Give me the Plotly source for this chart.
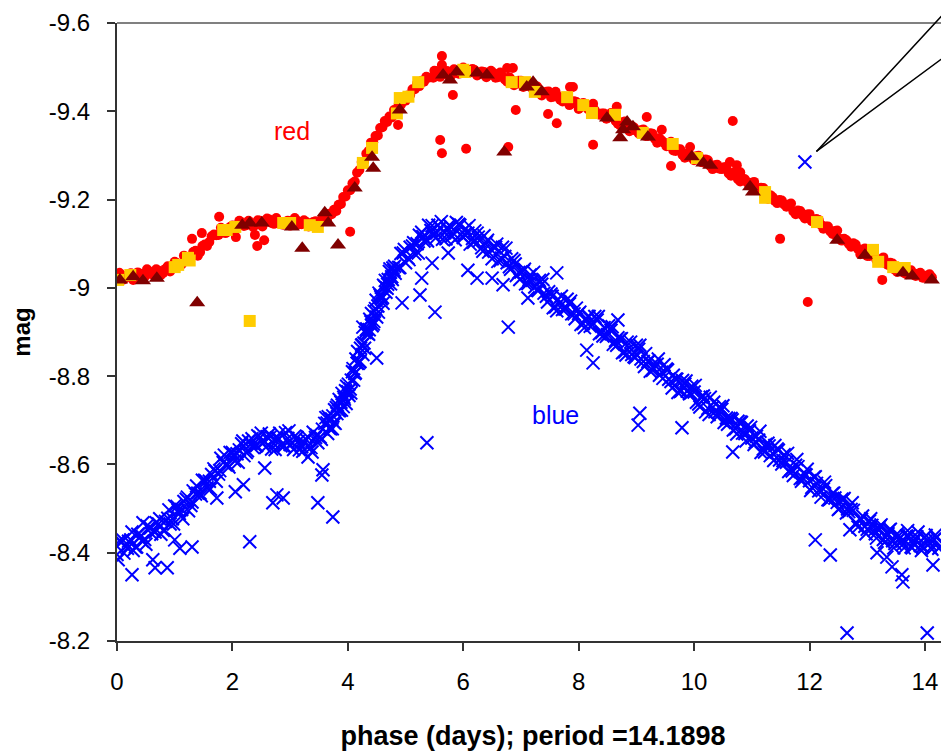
import plotly.graph_objects as go

# ---------------- data ----------------
# blue band (X markers), first pass
blue_x_a = [0.00,0.08,0.16,0.24,0.32,0.40,0.48,0.56,0.64,0.72,
            0.80,0.88,0.96,1.04,1.12,1.20,1.28,1.36,1.44,1.52,
            1.60,1.68,1.76,1.84,1.92,2.00,2.08,2.16,2.24,2.32,
            2.40,2.48,2.56,2.64,2.72,2.80,2.88,2.96,3.04,3.12,
            3.20,3.28,3.36,3.44,3.52,3.60]
blue_y_a = [-8.396,-8.424,-8.414,-8.429,-8.413,-8.435,-8.430,-8.458,-8.449,-8.465,
            -8.451,-8.478,-8.477,-8.505,-8.498,-8.521,-8.507,-8.533,-8.535,-8.564,
            -8.562,-8.590,-8.578,-8.604,-8.599,-8.627,-8.624,-8.647,-8.627,-8.647,
            -8.642,-8.661,-8.652,-8.669,-8.647,-8.659,-8.642,-8.659,-8.648,-8.661,
            -8.640,-8.656,-8.638,-8.661,-8.662,-8.693]
blue_x_b = [3.64,3.68,3.72,3.76,3.80,3.84,3.88,3.92,3.96,4.00,
            4.04,4.08,4.12,4.16,4.20,4.24,4.28,4.32,4.36,4.40,
            4.44,4.48,4.52,4.56,4.60,4.64,4.68,4.72,4.76,4.80]
blue_y_b = [-8.694,-8.682,-8.703,-8.695,-8.729,-8.722,-8.741,-8.731,-8.767,-8.765,
            -8.771,-8.810,-8.806,-8.829,-8.832,-8.870,-8.875,-8.905,-8.895,-8.923,
            -8.918,-8.953,-8.959,-8.984,-8.978,-9.003,-8.999,-9.037,-9.025,-9.040]
blue_x_c = [4.88,4.96,5.04,5.12,5.20,5.28,5.36,5.44,5.52,5.60,
            5.68,5.76,5.84,5.92,6.00,6.08,6.16,6.24,6.32,6.40,
            6.48,6.56,6.64,6.72,6.80,6.88,6.96,7.04,7.12,7.20,
            7.28,7.36,7.44,7.52,7.60,7.68,7.76,7.84,7.92,8.00,
            8.08,8.16,8.24,8.32,8.40]
blue_y_c = [-9.046,-9.079,-9.068,-9.095,-9.100,-9.126,-9.109,-9.130,-9.113,-9.136,
            -9.125,-9.142,-9.122,-9.144,-9.114,-9.124,-9.112,-9.124,-9.091,-9.103,
            -9.087,-9.092,-9.062,-9.071,-9.048,-9.062,-9.035,-9.038,-9.010,-9.017,
            -8.995,-9.008,-8.981,-8.986,-8.957,-8.967,-8.952,-8.964,-8.941,-8.942,
            -8.919,-8.935,-8.916,-8.927,-8.899]
blue_x_d = [8.48,8.56,8.64,8.72,8.80,8.88,8.96,9.04,9.12,9.20,
            9.28,9.36,9.44,9.52,9.60,9.68,9.76,9.84,9.92,10.00,
            10.08,10.16,10.24,10.32,10.40,10.48,10.56,10.64,10.72,10.80,
            10.88,10.96,11.04,11.12,11.20,11.28,11.36,11.44,11.52,11.60,
            11.68,11.76,11.84,11.92,12.00,12.08,12.16,12.24,12.32,12.40,
            12.48,12.56,12.64,12.72,12.80,12.88,12.96,13.04,13.12,13.20,
            13.28,13.36,13.44,13.52,13.60,13.68,13.76,13.84,13.92,14.00,
            14.08,14.16,14.24]
blue_y_d = [-8.890,-8.904,-8.881,-8.884,-8.855,-8.864,-8.844,-8.861,-8.833,-8.833,
            -8.813,-8.827,-8.809,-8.816,-8.788,-8.793,-8.765,-8.782,-8.760,-8.764,
            -8.737,-8.755,-8.727,-8.729,-8.708,-8.725,-8.705,-8.704,-8.681,-8.696,
            -8.670,-8.676,-8.645,-8.655,-8.635,-8.648,-8.625,-8.635,-8.601,-8.605,
            -8.589,-8.598,-8.568,-8.578,-8.563,-8.571,-8.540,-8.544,-8.520,-8.534,
            -8.514,-8.521,-8.490,-8.498,-8.467,-8.475,-8.460,-8.472,-8.451,-8.455,
            -8.430,-8.443,-8.427,-8.443,-8.426,-8.438,-8.413,-8.430,-8.416,-8.435,
            -8.421,-8.430,-8.410]
# blue band, second pass
blue_x_a2 = [0.04,0.12,0.20,0.28,0.36,0.44,0.52,0.60,0.68,0.76,
             0.84,0.92,1.00,1.08,1.16,1.24,1.32,1.40,1.48,1.56,
             1.64,1.72,1.80,1.88,1.96,2.04,2.12,2.20,2.28,2.36,
             2.44,2.52,2.60,2.68,2.76,2.84,2.92,3.00,3.08,3.16,
             3.24,3.32,3.40,3.48,3.56]
blue_y_a2 = [-8.427,-8.399,-8.426,-8.405,-8.442,-8.426,-8.461,-8.443,-8.468,-8.442,
             -8.471,-8.465,-8.506,-8.489,-8.516,-8.495,-8.540,-8.535,-8.564,-8.547,
             -8.577,-8.562,-8.614,-8.599,-8.627,-8.608,-8.633,-8.620,-8.653,-8.638,
             -8.665,-8.649,-8.663,-8.635,-8.660,-8.642,-8.672,-8.645,-8.664,-8.633,
             -8.650,-8.641,-8.673,-8.649,-8.680]
blue_x_b2 = [3.66,3.70,3.74,3.78,3.82,3.86,3.90,3.94,3.98,4.02,
             4.06,4.10,4.14,4.18,4.22,4.26,4.30,4.34,4.38,4.42,
             4.46,4.50,4.54,4.58,4.62,4.66,4.70,4.74,4.78,4.82]
blue_y_b2 = [-8.708,-8.681,-8.710,-8.693,-8.734,-8.722,-8.761,-8.748,-8.777,-8.756,
             -8.791,-8.791,-8.839,-8.829,-8.863,-8.849,-8.899,-8.897,-8.929,-8.914,
             -8.947,-8.934,-8.988,-8.975,-9.006,-8.990,-9.019,-9.009,-9.045,-9.033]
blue_x_c2 = [4.92,5.00,5.08,5.16,5.24,5.32,5.40,5.48,5.56,5.64,
             5.72,5.80,5.88,5.96,6.04,6.12,6.20,6.28,6.36,6.44,
             6.52,6.60,6.68,6.76,6.84,6.92,7.00,7.08,7.16,7.24,
             7.32,7.40,7.48,7.56,7.64,7.72,7.80,7.88,7.96,8.04,
             8.12,8.20,8.28,8.36,8.44]
blue_y_c2 = [-9.078,-9.057,-9.092,-9.077,-9.119,-9.106,-9.142,-9.121,-9.142,-9.110,
             -9.133,-9.118,-9.148,-9.120,-9.134,-9.099,-9.129,-9.107,-9.118,-9.081,
             -9.093,-9.060,-9.092,-9.057,-9.066,-9.028,-9.036,-9.009,-9.029,-9.002,
             -9.017,-8.988,-8.991,-8.955,-8.974,-8.951,-8.974,-8.941,-8.954,-8.917,
             -8.929,-8.913,-8.935,-8.896,-8.910]
blue_x_d2 = [8.52,8.60,8.68,8.76,8.84,8.92,9.00,9.08,9.16,9.24,
             9.32,9.40,9.48,9.56,9.64,9.72,9.80,9.88,9.96,10.04,
             10.12,10.20,10.28,10.36,10.44,10.52,10.60,10.68,10.76,10.84,
             10.92,11.00,11.08,11.16,11.24,11.32,11.40,11.48,11.56,11.64,
             11.72,11.80,11.88,11.96,12.04,12.12,12.20,12.28,12.36,12.44,
             12.52,12.60,12.68,12.76,12.84,12.92,13.00,13.08,13.16,13.24,
             13.32,13.40,13.48,13.56,13.64,13.72,13.80,13.88,13.96,14.04,
             14.12,14.20]
blue_y_d2 = [-8.914,-8.872,-8.887,-8.853,-8.877,-8.849,-8.870,-8.839,-8.851,-8.811,
             -8.825,-8.802,-8.826,-8.793,-8.802,-8.763,-8.790,-8.766,-8.777,-8.741,
             -8.753,-8.719,-8.752,-8.719,-8.731,-8.695,-8.704,-8.678,-8.698,-8.671,
             -8.687,-8.660,-8.664,-8.627,-8.645,-8.620,-8.643,-8.610,-8.622,-8.584,
             -8.575,-8.595,-8.570,-8.589,-8.548,-8.557,-8.526,-8.552,-8.522,-8.524,
             -8.500,-8.523,-8.493,-8.496,-8.458,-8.483,-8.453,-8.462,-8.433,-8.463,
             -8.435,-8.453,-8.421,-8.433,-8.411,-8.438,-8.420,-8.447,-8.414,-8.429,
             -8.408,-8.434]
# blue band, third pass
blue_x_a3 = [0.02,0.10,0.18,0.26,0.34,0.42,0.50,0.58,0.66,0.74,
             0.82,0.90,0.98,1.06,1.14,1.22,1.30,1.38,1.46,1.54,
             1.62,1.70,1.78,1.86,1.94,2.02,2.10,2.18,2.26,2.34,
             2.42,2.50,2.58,2.66,2.74,2.82,2.90,2.98,3.06,3.14,
             3.22,3.30,3.38,3.46,3.54,3.62]
blue_y_a3 = [-8.384,-8.429,-8.410,-8.447,-8.413,-8.439,-8.419,-8.456,-8.447,-8.477,
             -8.452,-8.497,-8.465,-8.496,-8.477,-8.526,-8.515,-8.551,-8.529,-8.562,
             -8.544,-8.585,-8.586,-8.621,-8.594,-8.622,-8.605,-8.653,-8.631,-8.658,
             -8.643,-8.671,-8.639,-8.663,-8.634,-8.671,-8.642,-8.676,-8.634,-8.652,
             -8.630,-8.663,-8.628,-8.666,-8.657,-8.706]
blue_x_b3 = [3.65,3.69,3.73,3.77,3.81,3.85,3.89,3.93,3.97,4.01,
             4.05,4.09,4.13,4.17,4.21,4.25,4.29,4.33,4.37,4.41,
             4.45,4.49,4.53,4.57,4.61,4.65,4.69,4.73,4.77,4.81]
blue_y_b3 = [-8.670,-8.703,-8.681,-8.724,-8.715,-8.747,-8.723,-8.752,-8.738,-8.782,
             -8.762,-8.817,-8.808,-8.856,-8.833,-8.871,-8.863,-8.907,-8.905,-8.942,
             -8.924,-8.972,-8.945,-8.980,-8.965,-9.017,-9.008,-9.043,-9.019,-9.049]
blue_x_c3 = [4.90,4.98,5.06,5.14,5.22,5.30,5.38,5.46,5.54,5.62,
             5.70,5.78,5.86,5.94,6.02,6.10,6.18,6.26,6.34,6.42,
             6.50,6.58,6.66,6.74,6.82,6.90,6.98,7.06,7.14,7.22,
             7.30,7.38,7.46,7.54,7.62,7.70,7.78,7.86,7.94,8.02,
             8.10,8.18,8.26,8.34,8.42]
blue_y_c3 = [-9.046,-9.087,-9.064,-9.102,-9.079,-9.116,-9.106,-9.141,-9.124,-9.150,
             -9.111,-9.139,-9.109,-9.142,-9.121,-9.141,-9.103,-9.115,-9.083,-9.108,
             -9.066,-9.099,-9.067,-9.090,-9.042,-9.054,-9.019,-9.042,-9.019,-9.035,
             -8.994,-9.019,-8.968,-8.981,-8.948,-8.981,-8.953,-8.970,-8.930,-8.945,
             -8.910,-8.935,-8.919,-8.935,-8.891]
blue_x_d3 = [8.50,8.58,8.66,8.74,8.82,8.90,8.98,9.06,9.14,9.22,
             9.30,9.38,9.46,9.54,9.62,9.70,9.78,9.86,9.94,10.02,
             10.10,10.18,10.26,10.34,10.42,10.50,10.58,10.66,10.74,10.82,
             10.90,10.98,11.06,11.14,11.22,11.30,11.38,11.46,11.54,11.62,
             11.70,11.78,11.86,11.94,12.02,12.10,12.18,12.26,12.34,12.42,
             12.50,12.58,12.66,12.74,12.82,12.90,12.98,13.06,13.14,13.22,
             13.30,13.38,13.46,13.54,13.62,13.70,13.78,13.86,13.94,14.02,
             14.10,14.18,14.26]
blue_y_d3 = [-8.894,-8.912,-8.870,-8.885,-8.848,-8.877,-8.842,-8.870,-8.822,-8.834,
             -8.818,-8.839,-8.795,-8.814,-8.773,-8.793,-8.767,-8.789,-8.762,-8.779,
             -8.730,-8.749,-8.713,-8.741,-8.717,-8.733,-8.691,-8.701,-8.669,-8.695,
             -8.653,-8.684,-8.651,-8.675,-8.628,-8.642,-8.609,-8.632,-8.609,-8.625,
             -8.585,-8.611,-8.562,-8.576,-8.541,-8.572,-8.543,-8.560,-8.520,-8.535,
             -8.498,-8.520,-8.499,-8.513,-8.466,-8.476,-8.443,-8.477,-8.443,-8.460,
             -8.423,-8.451,-8.411,-8.438,-8.419,-8.450,-8.411,-8.436,-8.405,-8.439,
             -8.411,-8.440,-8.413]
blue_out_x = [0.26,0.66,0.87,1.09,1.30,1.00,0.45,2.30,2.70,2.77,
              2.88,3.48,3.74,3.55,3.57,2.56,2.19,2.05,1.73,3.31,
              0.62,5.37,4.26,4.50,4.94,5.25,5.51,5.28,5.46,5.74,
              6.08,6.24,6.50,6.69,6.78,7.12,7.62,8.14,8.25,9.06,
              9.03,9.79,12.10,12.36,12.65,14.04,13.17,13.34,13.43,13.62,
              13.60,14.14,12.70,10.67,8.68,11.92]
blue_out_y = [-8.350,-8.366,-8.366,-8.410,-8.413,-8.429,-8.468,-8.425,-8.513,-8.531,
              -8.524,-8.513,-8.481,-8.576,-8.588,-8.592,-8.554,-8.538,-8.524,-8.617,
              -8.384,-8.649,-8.911,-8.841,-8.966,-8.984,-8.945,-9.022,-9.056,-9.079,
              -9.040,-9.022,-9.022,-9.007,-8.911,-8.977,-9.034,-8.859,-8.830,-8.716,
              -8.689,-8.683,-8.429,-8.395,-8.218,-8.218,-8.400,-8.390,-8.368,-8.334,
              -8.350,-8.372,-8.452,-8.628,-8.927,-9.285]

# red band (filled circles), first pass
red_x_a = [0.00,0.08,0.16,0.24,0.32,0.40,0.48,0.56,0.64,0.72,
           0.80,0.88,0.96,1.04,1.12,1.20,1.28,1.36,1.44,1.52,
           1.60,1.68,1.76,1.84,1.92,2.00,2.08,2.16,2.24,2.32,
           2.40,2.48,2.56,2.64,2.72,2.80,2.88,2.96,3.04,3.12,
           3.20,3.28,3.36,3.44,3.52,3.60]
red_y_a = [-9.019,-9.029,-9.024,-9.033,-9.025,-9.032,-9.025,-9.037,-9.033,-9.039,
           -9.034,-9.049,-9.046,-9.056,-9.053,-9.067,-9.069,-9.084,-9.081,-9.098,
           -9.104,-9.121,-9.120,-9.133,-9.127,-9.141,-9.138,-9.148,-9.142,-9.147,
           -9.143,-9.152,-9.148,-9.155,-9.145,-9.151,-9.143,-9.152,-9.146,-9.152,
           -9.144,-9.149,-9.142,-9.151,-9.147,-9.160]
red_x_b = [3.64,3.68,3.72,3.76,3.80,3.84,3.88,3.92,3.96,4.00,
           4.04,4.08,4.12,4.16,4.20,4.24,4.28,4.32,4.36,4.40,
           4.44,4.48,4.52,4.56,4.60,4.64,4.68,4.72,4.76,4.80,
           4.84,4.88,4.92,4.96,5.00,5.04,5.08,5.12,5.16,5.20,
           5.24,5.28,5.32,5.36,5.40]
red_y_b = [-9.154,-9.168,-9.167,-9.177,-9.174,-9.188,-9.190,-9.206,-9.207,-9.221,
           -9.221,-9.237,-9.241,-9.261,-9.267,-9.285,-9.286,-9.304,-9.310,-9.329,
           -9.330,-9.344,-9.345,-9.362,-9.364,-9.378,-9.376,-9.388,-9.386,-9.403,
           -9.402,-9.415,-9.415,-9.429,-9.424,-9.436,-9.437,-9.450,-9.450,-9.463,
           -9.457,-9.469,-9.467,-9.478,-9.476]
red_x_c = [5.48,5.56,5.64,5.72,5.80,5.88,5.96,6.04,6.12,6.20,
           6.28,6.36,6.44,6.52,6.60,6.68,6.76,6.84,6.92,7.00,
           7.08,7.16,7.24,7.32,7.40,7.48,7.56,7.64,7.72,7.80,
           7.88,7.96,8.04,8.12,8.20,8.28,8.36,8.44,8.52,8.60,
           8.68,8.76,8.84,8.92,9.00,9.08,9.16,9.24,9.32,9.40,
           9.48,9.56,9.64,9.72,9.80,9.88,9.96,10.04,10.12,10.20,
           10.28,10.36,10.44,10.52,10.60,10.68,10.76,10.84,10.92,11.00,
           11.08,11.16,11.24,11.32,11.40,11.48,11.56,11.64,11.72,11.80,
           11.88,11.96,12.04,12.12,12.20,12.28,12.36,12.44,12.52,12.60,
           12.68,12.76,12.84,12.92,13.00,13.08,13.16,13.24,13.32,13.40,
           13.48,13.56,13.64,13.72,13.80,13.88,13.96,14.04,14.12]
red_y_c = [-9.476,-9.488,-9.484,-9.491,-9.483,-9.491,-9.486,-9.495,-9.488,-9.493,
           -9.484,-9.489,-9.482,-9.487,-9.477,-9.480,-9.467,-9.471,-9.463,-9.469,
           -9.457,-9.457,-9.444,-9.449,-9.441,-9.445,-9.433,-9.434,-9.422,-9.430,
           -9.418,-9.421,-9.411,-9.415,-9.400,-9.402,-9.392,-9.395,-9.386,-9.388,
           -9.372,-9.375,-9.365,-9.366,-9.356,-9.357,-9.344,-9.350,-9.338,-9.339,
           -9.329,-9.328,-9.311,-9.314,-9.301,-9.304,-9.295,-9.298,-9.285,-9.291,
           -9.276,-9.278,-9.270,-9.273,-9.259,-9.261,-9.246,-9.248,-9.239,-9.238,
           -9.225,-9.227,-9.210,-9.210,-9.197,-9.199,-9.189,-9.189,-9.173,-9.175,
           -9.164,-9.166,-9.151,-9.156,-9.143,-9.139,-9.128,-9.129,-9.111,-9.111,
           -9.100,-9.101,-9.088,-9.087,-9.072,-9.075,-9.063,-9.065,-9.055,-9.057,
           -9.041,-9.043,-9.034,-9.038,-9.030,-9.032,-9.023,-9.028,-9.024]
# red band, second pass
red_x_a2 = [0.04,0.12,0.20,0.28,0.36,0.44,0.52,0.60,0.68,0.76,
            0.84,0.92,1.00,1.08,1.16,1.24,1.32,1.40,1.48,1.56,
            1.64,1.72,1.80,1.88,1.96,2.04,2.12,2.20,2.28,2.36,
            2.44,2.52,2.60,2.68,2.76,2.84,2.92,3.00,3.08,3.16,
            3.24,3.32,3.40,3.48,3.56]
red_y_a2 = [-9.034,-9.019,-9.030,-9.018,-9.035,-9.027,-9.042,-9.031,-9.042,-9.029,
            -9.043,-9.037,-9.059,-9.051,-9.073,-9.066,-9.081,-9.073,-9.095,-9.095,
            -9.117,-9.119,-9.136,-9.124,-9.138,-9.133,-9.152,-9.140,-9.152,-9.138,
            -9.153,-9.139,-9.157,-9.147,-9.158,-9.144,-9.150,-9.141,-9.158,-9.144,
            -9.153,-9.139,-9.149,-9.139,-9.158]
red_x_c2 = [5.52,5.60,5.68,5.76,5.84,5.92,6.00,6.08,6.16,6.24,
            6.32,6.40,6.48,6.56,6.64,6.72,6.80,6.88,6.96,7.04,
            7.12,7.20,7.28,7.36,7.44,7.52,7.60,7.68,7.76,7.84,
            7.92,8.00,8.08,8.16,8.24,8.32,8.40,8.48,8.56,8.64,
            8.72,8.80,8.88,8.96,9.04,9.12,9.20,9.28,9.36,9.44,
            9.52,9.60,9.68,9.76,9.84,9.92,10.00,10.08,10.16,10.24,
            10.32,10.40,10.48,10.56,10.64,10.72,10.80,10.88,10.96,11.04,
            11.12,11.20,11.28,11.36,11.44,11.52,11.60,11.68,11.76,11.84,
            11.92,12.00,12.08,12.16,12.24,12.32,12.40,12.48,12.56,12.64,
            12.72,12.80,12.88,12.96,13.04,13.12,13.20,13.28,13.36,13.44,
            13.52,13.60,13.68,13.76,13.84,13.92,14.00,14.08]
red_y_c2 = [-9.491,-9.478,-9.490,-9.479,-9.495,-9.485,-9.499,-9.487,-9.496,-9.481,
            -9.490,-9.477,-9.492,-9.476,-9.488,-9.472,-9.477,-9.459,-9.469,-9.455,
            -9.464,-9.451,-9.456,-9.436,-9.444,-9.432,-9.444,-9.426,-9.433,-9.414,
            -9.423,-9.405,-9.419,-9.405,-9.412,-9.394,-9.395,-9.383,-9.396,-9.378,
            -9.368,-9.377,-9.355,-9.363,-9.350,-9.359,-9.344,-9.349,-9.329,-9.334,
            -9.321,-9.331,-9.310,-9.314,-9.295,-9.302,-9.289,-9.299,-9.284,-9.289,
            -9.269,-9.279,-9.269,-9.274,-9.254,-9.262,-9.241,-9.246,-9.232,-9.240,
            -9.222,-9.226,-9.202,-9.206,-9.192,-9.198,-9.184,-9.191,-9.167,-9.174,
            -9.157,-9.167,-9.151,-9.154,-9.134,-9.139,-9.122,-9.130,-9.107,-9.108,
            -9.093,-9.098,-9.076,-9.089,-9.072,-9.073,-9.059,-9.069,-9.052,-9.055,
            -9.036,-9.043,-9.031,-9.040,-9.027,-9.034,-9.023,-9.031]
red_out_x = [1.77,1.30,1.47,2.39,2.43,2.55,2.06,4.04,4.87,5.50,
             5.63,5.63,5.82,5.60,5.63,6.05,6.76,6.86,6.78,6.91,
             7.47,7.62,7.85,7.90,8.25,8.25,8.66,9.18,9.44,9.60,
             9.93,10.62,10.74,10.80,10.67,11.49,11.97,13.26]
red_out_y = [-9.161,-9.111,-9.124,-9.120,-9.095,-9.108,-9.115,-9.127,-9.369,-9.492,
             -9.525,-9.505,-9.437,-9.335,-9.305,-9.315,-9.498,-9.498,-9.319,-9.403,
             -9.394,-9.373,-9.455,-9.455,-9.324,-9.417,-9.410,-9.387,-9.358,-9.276,
             -9.319,-9.285,-9.278,-9.262,-9.378,-9.111,-8.968,-9.018]

# gold squares
sq_x = [0.02,0.23,1.00,1.06,1.23,1.26,1.84,1.90,2.05,2.30,
        2.88,3.00,3.34,3.48,4.26,4.42,4.85,4.90,5.05,5.22,
        6.00,6.03,6.84,7.07,7.24,7.80,8.08,8.23,8.63,9.11,
        9.63,10.05,11.23,11.23,12.13,13.10,13.19,13.45,13.65]
sq_y = [-9.018,-9.029,-9.047,-9.052,-9.068,-9.062,-9.131,-9.131,-9.138,-8.925,
        -9.147,-9.147,-9.142,-9.138,-9.283,-9.317,-9.395,-9.430,-9.433,-9.466,
        -9.494,-9.489,-9.466,-9.466,-9.444,-9.432,-9.414,-9.396,-9.392,-9.351,
        -9.326,-9.294,-9.217,-9.204,-9.149,-9.086,-9.059,-9.047,-9.045]

# dark red triangles
tri_x = [0.05,0.28,0.45,0.69,1.39,2.17,2.30,2.51,3.03,3.21,
         3.60,3.66,3.83,4.12,4.42,4.44,4.90,5.65,5.77,5.89,
         6.24,6.41,6.71,7.10,7.21,7.36,8.49,8.72,8.77,8.84,
         8.94,9.20,9.96,10.16,10.28,10.97,11.02,12.48,12.96,13.62,
         13.78,14.12]
tri_y = [-9.018,-9.025,-9.016,-9.022,-8.966,-9.142,-9.147,-9.147,-9.138,-9.090,
         -9.170,-9.147,-9.097,-9.226,-9.296,-9.271,-9.403,-9.482,-9.471,-9.489,
         -9.487,-9.482,-9.308,-9.455,-9.466,-9.444,-9.385,-9.340,-9.358,-9.376,
         -9.365,-9.342,-9.297,-9.283,-9.278,-9.229,-9.217,-9.108,-9.074,-9.034,
         -9.027,-9.018]

x_ticks = [0, 2, 4, 6, 8, 10, 12, 14]
y_ticks = [-9.6, -9.4, -9.2, -9.0, -8.8, -8.6, -8.4, -8.2]
y_tick_labels = ['-9.6', '-9.4', '-9.2', '-9', '-8.8', '-8.6', '-8.4', '-8.2']

series_labels = [("red", 3.03, -9.355, "#FF0000"), ("blue", 7.59, -8.712, "#0000FF")]
callout_point = (12.12, -9.309)

pairs = [(blue_x_a, blue_y_a), (blue_x_b, blue_y_b), (blue_x_c, blue_y_c), (blue_x_d, blue_y_d),
         (blue_x_a2, blue_y_a2), (blue_x_b2, blue_y_b2), (blue_x_c2, blue_y_c2), (blue_x_d2, blue_y_d2),
         (blue_x_a3, blue_y_a3), (blue_x_b3, blue_y_b3), (blue_x_c3, blue_y_c3), (blue_x_d3, blue_y_d3),
         (blue_out_x, blue_out_y), (red_x_a, red_y_a), (red_x_b, red_y_b), (red_x_c, red_y_c),
         (red_x_a2, red_y_a2), (red_x_c2, red_y_c2),
         (red_out_x, red_out_y), (sq_x, sq_y), (tri_x, tri_y)]
for a, b in pairs:
    assert len(a) == len(b), (len(a), len(b))

red_x = red_x_a + red_x_a2 + red_x_b + red_x_c + red_x_c2 + red_out_x
red_y = red_y_a + red_y_a2 + red_y_b + red_y_c + red_y_c2 + red_out_y
blue_x = (blue_x_a + blue_x_a2 + blue_x_a3 + blue_x_b + blue_x_b2 + blue_x_b3
          + blue_x_c + blue_x_c2 + blue_x_c3 + blue_x_d + blue_x_d2 + blue_x_d3 + blue_out_x)
blue_y = (blue_y_a + blue_y_a2 + blue_y_a3 + blue_y_b + blue_y_b2 + blue_y_b3
          + blue_y_c + blue_y_c2 + blue_y_c3 + blue_y_d + blue_y_d2 + blue_y_d3 + blue_out_y)

FONT = "Liberation Sans, Arial, sans-serif"

fig = go.Figure()
fig.add_trace(go.Scatter(x=blue_x, y=blue_y, mode="markers",
                         marker=dict(symbol="x-thin", size=13, color="#0000FF",
                                     line=dict(color="#0000FF", width=2)),
                         showlegend=False, hoverinfo="skip"))
fig.add_trace(go.Scatter(x=red_x, y=red_y, mode="markers",
                         marker=dict(symbol="circle", size=10, color="#FF0000", line=dict(width=0)),
                         showlegend=False, hoverinfo="skip"))
fig.add_trace(go.Scatter(x=sq_x, y=sq_y, mode="markers",
                         marker=dict(symbol="square", size=12, color="#FFCC00", line=dict(width=0)),
                         showlegend=False, hoverinfo="skip"))
fig.add_trace(go.Scatter(x=tri_x, y=tri_y, mode="markers",
                         marker=dict(symbol="triangle-up", size=14, color="#800000", line=dict(width=0)),
                         showlegend=False, hoverinfo="skip"))

annotations = []
for txt, ax_, ay_, col in series_labels:
    annotations.append(dict(x=ax_, y=ay_, xref="x", yref="y", text=txt, showarrow=False,
                            font=dict(family=FONT, size=25, color=col)))
for dx, dy in [(150, -163), (150, -98)]:
    annotations.append(dict(x=callout_point[0], y=callout_point[1], xref="x", yref="y", text="",
                            showarrow=True, arrowhead=0, arrowwidth=1.5, arrowcolor="black",
                            ax=dx, ay=dy, standoff=0, startstandoff=0))

fig.update_layout(
    width=941, height=743,
    margin=dict(l=109, r=0, t=15, b=110),
    paper_bgcolor="white", plot_bgcolor="white",
    showlegend=False,
    font=dict(family=FONT, color="black"),
    annotations=annotations,
    shapes=[dict(type="line", xref="paper", yref="paper", x0=0, x1=1, y0=1, y1=1,
                 line=dict(color="#808080", width=2))],
    xaxis=dict(range=[0, 14.417], tickvals=x_ticks, ticks="outside", ticklen=8, tickwidth=1.5,
               tickcolor="#333333", showline=True, linecolor="#333333", linewidth=2,
               showgrid=False, zeroline=False, automargin=False,
               tickfont=dict(family=FONT, size=24, color="black"),
               ticklabelstandoff=10,
               title=dict(text="phase (days); period =14.1898", standoff=35,
                          font=dict(family=FONT, size=27, color="black", weight="bold"))),
    yaxis=dict(range=[-8.2, -9.6], tickvals=y_ticks, ticktext=y_tick_labels, ticks="outside",
               ticklen=8, tickwidth=1.5, tickcolor="#333333", showline=True, linecolor="#333333",
               linewidth=2, showgrid=False, zeroline=False, ticklabelstandoff=12, automargin=False,
               tickfont=dict(family=FONT, size=24, color="black"),
               title=dict(text="mag", standoff=18,
                          font=dict(family=FONT, size=24, color="black", weight="bold"))),
)

fig.write_html("out.html")
